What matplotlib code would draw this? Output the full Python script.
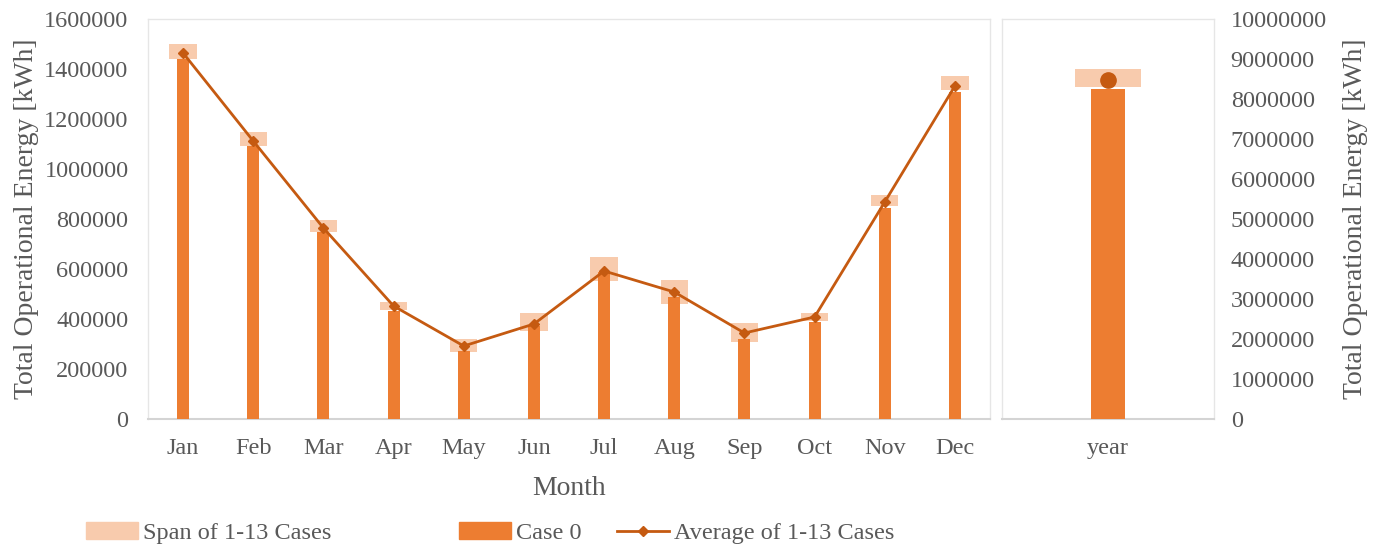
import numpy as np
import matplotlib.pyplot as plt
from matplotlib.patches import Patch
from matplotlib.lines import Line2D

# ---------------------------------------------------------------
# data (kWh)
months = ['Jan', 'Feb', 'Mar', 'Apr', 'May', 'Jun', 'Jul', 'Aug', 'Sep', 'Oct', 'Nov', 'Dec']
span_max = [1500000, 1148000, 796000, 468000, 320000, 424000, 648000, 556000, 384000, 424000, 896000, 1372000]
span_min = [1440000, 1092000, 748000, 436000, 268000, 352000, 552000, 460000, 308000, 392000, 852000, 1316000]
avg_cases = [1464000, 1112000, 764000, 452000, 292000, 380000, 592000, 508000, 344000, 408000, 868000, 1332000]
case0 = [1440000, 1092000, 748000, 432000, 272000, 372000, 588000, 488000, 320000, 388000, 844000, 1308000]

year_label = ['year']
year_span_max = [8750000]
year_span_min = [8300000]
year_avg = [8475000]
year_case0 = [8250000]
# ---------------------------------------------------------------

c_span = '#F8CBAD'
c_bar = '#ED7D31'
c_line = '#C55A11'
c_text = '#595959'
c_frame = '#E6E6E6'
c_base = '#D4D4D4'

plt.rcParams['font.family'] = ['Liberation Serif', 'DejaVu Serif']
tick_fs = 17.5
title_fs = 20

fig = plt.figure(figsize=(13.84, 5.48), dpi=100)
W, H = 1384, 548
ax = fig.add_axes([148 / W, (H - 419) / H, 842 / W, 400 / H])
ax2 = fig.add_axes([1002 / W, (H - 419) / H, 212 / W, 400 / H])

x = np.arange(len(months))
ax.bar(x, np.array(span_max) - np.array(span_min), bottom=span_min, width=0.39, color=c_span, zorder=2)
ax.bar(x, case0, width=0.17, color=c_bar, zorder=3)
ax.plot(x, avg_cases, color=c_line, lw=2, marker='D', ms=5, zorder=4)
ax.set_xlim(-0.5, len(months) - 0.5)
ax.set_ylim(0, 1600000)
ax.set_yticks(np.arange(0, 1600001, 200000))
ax.set_xticks(x)
ax.set_xticklabels(months)
ax.set_xlabel('Month', fontsize=title_fs, color=c_text, labelpad=12)
ax.set_ylabel('Total Operational Energy [kWh]', fontsize=title_fs, color=c_text, labelpad=4)
ax.tick_params(axis='y', length=0, pad=14, labelsize=tick_fs, labelcolor=c_text)
ax.tick_params(axis='x', length=0, pad=14, labelsize=tick_fs, labelcolor=c_text)

x2 = np.arange(len(year_label))
ax2.bar(x2, np.array(year_span_max) - np.array(year_span_min), bottom=year_span_min, width=0.31,
        color=c_span, zorder=2)
ax2.bar(x2, year_case0, width=0.16, color=c_bar, zorder=3)
ax2.plot(x2, year_avg, 'o', color=c_line, ms=11, zorder=4)
ax2.set_xlim(-0.5, 0.5)
ax2.set_ylim(0, 10000000)
ax2.set_yticks(np.arange(0, 10000001, 1000000))
ax2.set_xticks(x2)
ax2.set_xticklabels(year_label)
ax2.yaxis.tick_right()
ax2.yaxis.set_label_position('right')
ax2.set_ylabel('Total Operational Energy [kWh]', fontsize=title_fs, color=c_text, labelpad=12)
ax2.tick_params(axis='y', length=0, pad=12, labelsize=tick_fs, labelcolor=c_text)
ax2.tick_params(axis='x', length=0, pad=14, labelsize=tick_fs, labelcolor=c_text)

for a in (ax, ax2):
    for s in ('top', 'left', 'right'):
        a.spines[s].set_color(c_frame)
        a.spines[s].set_linewidth(1)
    a.spines['bottom'].set_color(c_base)
    a.spines['bottom'].set_linewidth(1.5)
    a.ticklabel_format(axis='y', style='plain')

# legend entries placed like the original (spread out)
entries = [
    (Patch(color=c_span), 'Span of 1-13 Cases', 86),
    (Patch(color=c_bar), 'Case 0', 459),
    (Line2D([], [], color=c_line, lw=2, marker='D', ms=5), 'Average of 1-13 Cases', 617),
]
for h, lab, px in entries:
    leg = fig.legend([h], [lab], loc='center left', bbox_to_anchor=(px / W, (H - 533) / H),
                     frameon=False, fontsize=tick_fs, handlelength=2.15, handleheight=0.7,
                     handletextpad=0.2, borderpad=0, borderaxespad=0)
    for t in leg.get_texts():
        t.set_color(c_text)

fig.savefig('out.png', dpi=100)
